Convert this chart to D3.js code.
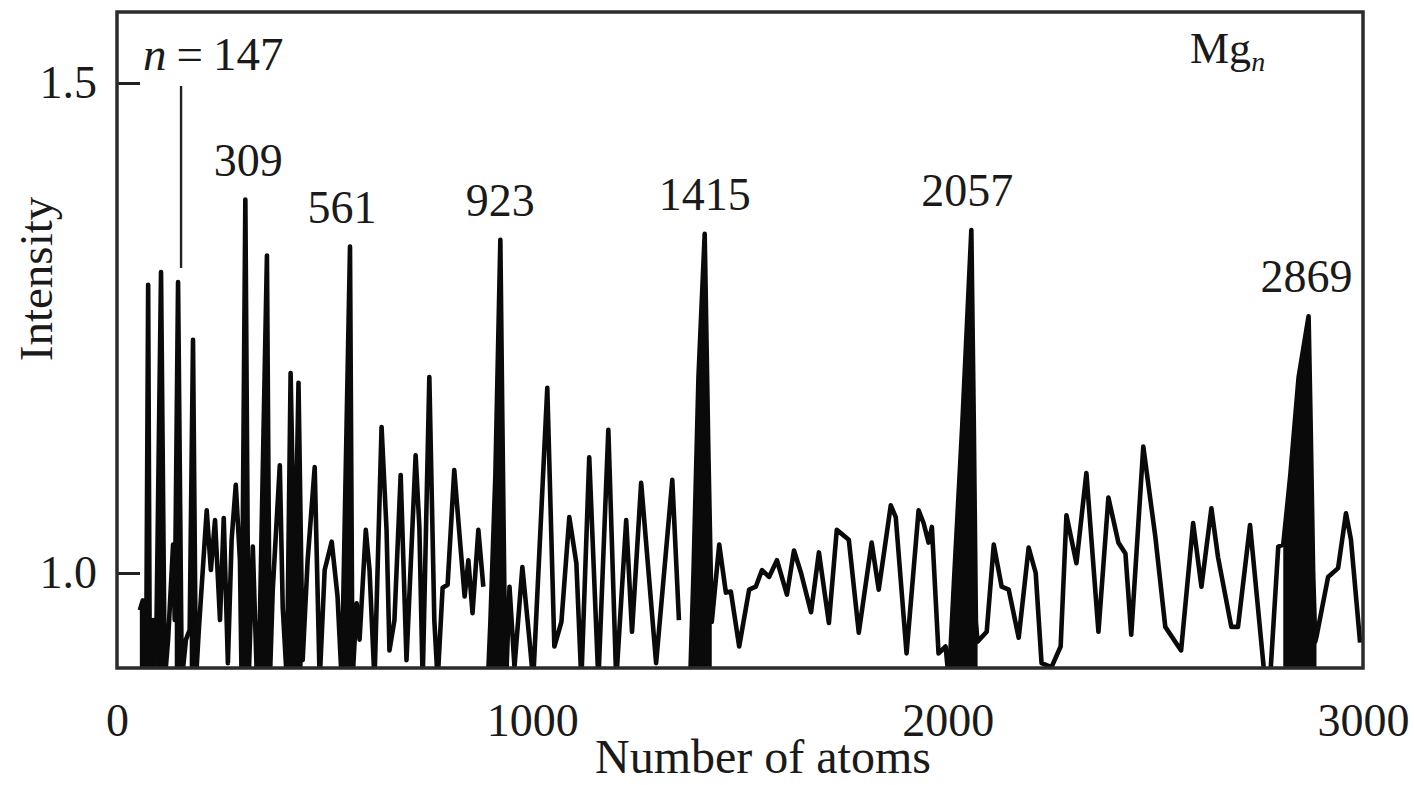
<!DOCTYPE html>
<html>
<head>
<meta charset="utf-8">
<script src="https://cdn.jsdelivr.net/npm/d3@7/dist/d3.min.js"></script>
<style>
  html, body { margin: 0; padding: 0; background: #fff; }
  svg { display: block; }
  text { font-family: "Liberation Serif", "Times New Roman", serif; fill: #1a1a1a; }
</style>
</head>
<body>
<svg id="chart" width="1414" height="785"></svg>
<script>
// Mass spectrum of Mg_n clusters: intensity versus number of atoms.
// Each entry is [number of atoms, intensity]; the three runs are drawn as separate traces.
const spectrumLow = [
  [55,0.962],[62,0.972],[70,0.89],[75,1.294],[79,0.89],[87,0.952],[94,0.911],[106,1.307],
  [115,0.89],[123,0.932],[135,1.029],[139,0.952],[147,1.297],[156,0.89],[166,0.932],[175,0.942],
  [183,1.238],[190,0.89],[197,0.942],[207,1.006],[216,1.064],[226,1.003],[236,1.054],[248,0.952],
  [257,1.056],[267,0.908],[276,1.034],[286,1.090],[296,1.013],[300,0.89],[309,1.381],[317,0.89],
  [327,1.027],[337,0.89],[344,0.952],[361,1.324],[368,0.89],[375,0.983],[392,1.110],[399,0.965],
  [409,0.89],[418,1.204],[428,0.983],[437,1.194],[447,0.911],[459,1.013],[476,1.108],[488,0.89],
  [500,1.003],[517,1.032],[531,0.976],[541,0.89],[561,1.333],[567,0.89],[577,0.969],[584,0.932],
  [599,1.044],[608,1.003],[620,0.89],[637,1.149],[649,1.044],[656,0.921],[668,0.952],[683,1.100],
  [697,0.911],[719,1.120],[728,1.047],[736,0.89],[752,1.200],[764,0.952],[772,0.89],[784,0.985],
  [796,0.988],[812,1.105],[825,1.037],[837,0.976],[846,1.013],[856,0.959],[870,1.044],[882,0.986]
];

const spectrumMid = [
  [893,0.89],[899,0.95],[911,1.10],[923,1.340],[928,1.15],[933,0.97],[937,0.89],
  [945,0.986],[957,0.904],[976,1.006],[993,0.932],[1002,0.89],[1036,1.189],[1053,0.925],
  [1070,0.950],[1089,1.057],[1106,1.010],[1118,0.89],[1137,1.118],[1159,0.89],[1183,1.146],
  [1202,0.89],[1226,1.054],[1240,0.940],[1262,1.092],[1298,0.908],[1337,1.095],[1353,0.952]
];

const spectrumHigh = [
  [1380,0.89],[1388,1.00],[1400,1.20],[1415,1.346],[1424,1.12],[1432,0.95],
  [1450,1.029],[1466,0.980],[1478,0.981],[1498,0.925],[1522,0.983],[1538,0.986],[1553,1.003],
  [1570,0.996],[1589,1.013],[1613,0.978],[1630,1.023],[1647,1.000],[1671,0.960],[1690,1.021],
  [1714,0.949],[1733,1.044],[1762,1.034],[1786,0.939],[1817,1.031],[1834,0.983],[1863,1.069],
  [1875,1.057],[1901,0.918],[1930,1.064],[1942,1.051],[1954,1.031],[1962,1.047],[1978,0.918],
  [1995,0.925],[2003,0.89],[2015,0.99],[2035,1.15],[2057,1.350],[2063,1.15],[2068,0.95],
  [2072,0.93],[2094,0.940],[2111,1.029],[2130,0.986],[2147,0.983],[2171,0.934],[2195,1.026],
  [2212,1.000],[2226,0.908],[2250,0.904],[2272,0.925],[2286,1.059],[2310,1.010],[2334,1.102],
  [2363,0.940],[2387,1.077],[2411,1.031],[2428,1.020],[2442,0.937],[2471,1.129],[2500,1.037],
  [2524,0.945],[2562,0.921],[2591,1.051],[2611,0.986],[2635,1.066],[2651,1.016],[2683,0.945],
  [2699,0.945],[2728,1.049],[2764,0.89],[2776,0.89],[2796,1.027],[2808,1.029],[2825,1.10],
  [2845,1.20],[2869,1.262],[2874,1.15],[2880,1.00],[2885,0.93],[2888,0.935],[2916,0.996],
  [2940,1.005],[2959,1.061],[2971,1.034],[2993,0.929]
];

// Magic numbers marked on the spectrum
const magicNumbers = [147, 309, 561, 923, 1415, 2057, 2869];
// Atom-number spans whose unresolved structure appears solid
const solidPeaks = [
  [55, 95], [94, 115], [139, 156], [175, 190], [300, 317], [344, 368], [409, 447], [541, 567],
  [893, 937], [1380, 1432], [2003, 2072], [2808, 2888]
];

const xTicks = [0, 1000, 2000, 3000];
const yTicks = [1.0, 1.5];

const svg = d3.select("#chart");
const plot = { left: 117, right: 1363, top: 12, bottom: 668 };

const x = d3.scaleLinear().domain([0, 3000]).range([plot.left, plot.right]);
const y = d3.scaleLinear().domain([1.0, 1.5]).range([573, 83]);

const spectrum = [...spectrumLow, null, ...spectrumMid, null, ...spectrumHigh];
const allPoints = spectrum.filter(d => d !== null);

svg.append("defs").append("clipPath").attr("id", "plot-clip")
  .append("rect")
  .attr("x", plot.left).attr("y", plot.top)
  .attr("width", plot.right - plot.left).attr("height", plot.bottom - plot.top);

const g = svg.append("g").attr("clip-path", "url(#plot-clip)");

// solid cores of the strongest peaks
const area = d3.area()
  .x(d => x(d[0]))
  .y0(plot.bottom + 4)
  .y1(d => y(d[1]));

solidPeaks.forEach(([a, b]) => {
  g.append("path")
    .datum(allPoints.filter(d => d[0] >= a && d[0] <= b))
    .attr("d", area)
    .attr("fill", "#0a0a0a");
});

const line = d3.line()
  .defined(d => d !== null)
  .x(d => x(d[0]))
  .y(d => y(d[1]));

g.append("path")
  .datum(spectrum)
  .attr("d", line)
  .attr("fill", "none")
  .attr("stroke", "#0a0a0a")
  .attr("stroke-width", 4.6)
  .attr("stroke-linejoin", "round");

// Axes
const fontSize = 46;

const xAxis = svg.append("g")
  .attr("font-family", null)
  .attr("transform", `translate(0,${plot.bottom})`)
  .call(d3.axisBottom(x).tickValues(xTicks).tickSize(0).tickPadding(35).tickFormat(d3.format("d")));
xAxis.select(".domain").remove();
xAxis.selectAll("text").attr("font-size", fontSize);

const yAxis = svg.append("g")
  .attr("font-family", null)
  .attr("transform", `translate(${plot.left},0)`)
  .call(d3.axisLeft(y).tickValues(yTicks).tickSize(-23).tickPadding(20).tickFormat(d3.format(".1f")));
yAxis.select(".domain").remove();
yAxis.selectAll("line").attr("stroke", "#222").attr("stroke-width", 3);
yAxis.selectAll("text").attr("font-size", fontSize);

// Frame
svg.append("rect")
  .attr("x", plot.left).attr("y", plot.top)
  .attr("width", plot.right - plot.left).attr("height", plot.bottom - plot.top)
  .attr("fill", "none").attr("stroke", "#2b2b2b").attr("stroke-width", 3.5);

// Axis titles
svg.append("text")
  .attr("x", 763).attr("y", 773)
  .attr("text-anchor", "middle").attr("font-size", 48)
  .text("Number of atoms");

svg.append("text")
  .attr("transform", "translate(52,279) rotate(-90)")
  .attr("text-anchor", "middle").attr("font-size", 47)
  .text("Intensity");

// Peak labels
const peakValue = n => allPoints.find(d => d[0] === n)[1];
const labelShift = { 561: -8, 309: 3, 2057: -4, 2869: -2 };

magicNumbers.slice(1).forEach(n => {
  svg.append("text")
    .attr("x", x(n) + (labelShift[n] || 0))
    .attr("y", y(peakValue(n)) - 24)
    .attr("text-anchor", "middle").attr("font-size", fontSize)
    .text(n);
});

// first magic number with leader line
const first = magicNumbers[0];
svg.append("line")
  .attr("x1", x(first) + 3).attr("x2", x(first) + 3)
  .attr("y1", y(1.497)).attr("y2", y(peakValue(first)) - 14)
  .attr("stroke", "#222").attr("stroke-width", 2.4);

const lab = svg.append("text")
  .attr("x", 143).attr("y", 70).attr("font-size", 47);
lab.append("tspan").attr("font-style", "italic").text("n");
lab.append("tspan").attr("dx", 10).text("=");
lab.append("tspan").attr("dx", 10).text(first);

// Cluster species
const sp = svg.append("text").attr("x", 1190).attr("y", 63).attr("font-size", 44);
sp.append("tspan").text("Mg");
sp.append("tspan").attr("font-style", "italic").attr("font-size", 28).attr("dy", 8).text("n");
</script>
</body>
</html>
